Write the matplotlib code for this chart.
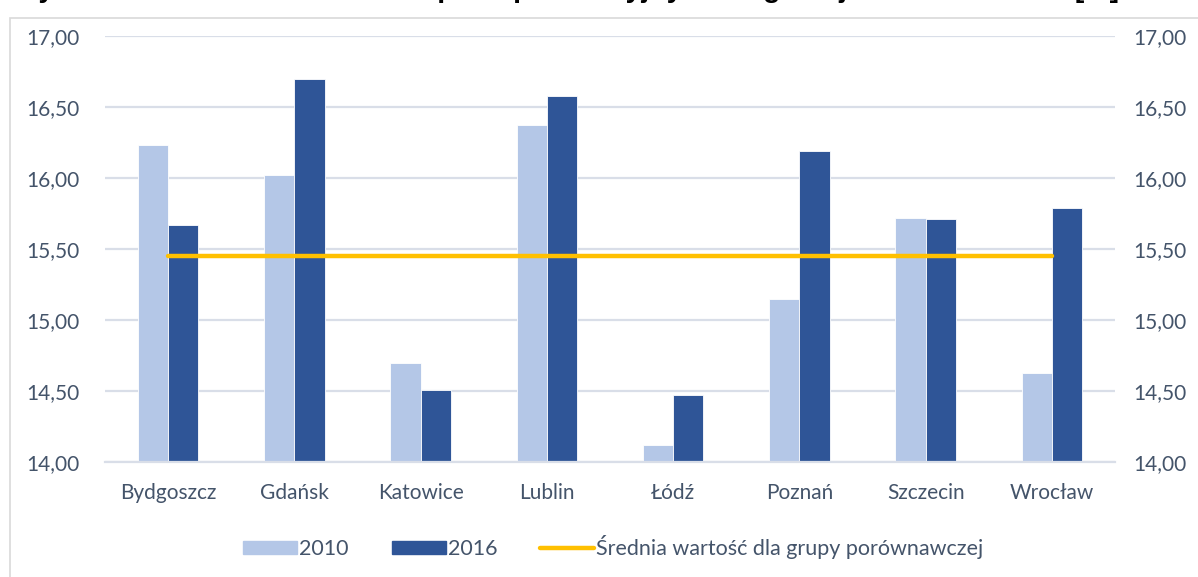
import matplotlib.pyplot as plt
import numpy as np
from matplotlib.patches import Rectangle
from matplotlib.lines import Line2D
from matplotlib.ticker import FuncFormatter

plt.rcParams['font.family'] = ['Lato', 'DejaVu Sans']

cities = ['Bydgoszcz', 'Gdańsk', 'Katowice', 'Lublin', 'Łódź', 'Poznań', 'Szczecin', 'Wrocław']
v2010 = [16.23, 16.02, 14.70, 16.37, 14.12, 15.15, 15.72, 14.63]
v2016 = [15.67, 16.70, 14.51, 16.58, 14.47, 16.19, 15.71, 15.79]
avg_group = 15.45
title = 'Wykres 5. Udział osób w wieku przedprodukcyjnym w ogólnej liczbie ludności [%]'

c2010 = '#B4C7E7'
c2016 = '#2F5597'
cavg = '#FFC000'
txt = '#44546A'
grid = '#D9DEE8'

fig = plt.figure(figsize=(11.98, 5.77), dpi=100)
ax = fig.add_axes([0.0876, 0.1993, 0.8431, 0.7383])

x = np.arange(len(cities))
w = 0.24
ax.bar(x - w/2, v2010, w, bottom=0, color=c2010, edgecolor='white', linewidth=0.6, zorder=2)
ax.bar(x + w/2, v2016, w, bottom=0, color=c2016, edgecolor='white', linewidth=0.6, zorder=2)
ax.plot(x, [avg_group]*len(x), color=cavg, lw=3.2, solid_capstyle='round', zorder=3)

ax.set_xlim(-0.5, len(cities) - 0.5)
ax.set_ylim(14, 17)
ax.set_yticks(np.arange(14, 17.01, 0.5))
fmt = FuncFormatter(lambda v, p: f'{v:.2f}'.replace('.', ','))
ax.yaxis.set_major_formatter(fmt)
ax.yaxis.grid(True, color=grid, lw=1.6, zorder=0)
ax.set_axisbelow(True)
for s in ax.spines.values():
    s.set_visible(False)
ax.spines['bottom'].set_visible(True)
ax.spines['bottom'].set_color(grid)
ax.spines['bottom'].set_linewidth(1.6)

ax.set_xticks(x)
ax.set_xticklabels(cities)
ax.tick_params(axis='both', length=0, colors=txt, labelsize=15)
ax.tick_params(axis='x', pad=15)
ax.tick_params(axis='y', pad=18)

ax2 = ax.twinx()
ax2.set_ylim(ax.get_ylim())
ax2.set_yticks(np.arange(14, 17.01, 0.5))
ax2.yaxis.set_major_formatter(fmt)
for s in ax2.spines.values():
    s.set_visible(False)
ax2.tick_params(axis='y', length=0, colors=txt, labelsize=15, pad=13)

handles = [Rectangle((0, 0), 1, 1, color=c2010),
           Rectangle((0, 0), 1, 1, color=c2016),
           Line2D([0], [0], color=cavg, lw=3.2, solid_capstyle='round')]
fig.legend(handles, ['2010', '2016', 'Średnia wartość dla grupy porównawczej'],
           loc='center', bbox_to_anchor=(0.512, 0.052), ncol=3, frameon=False,
           fontsize=15.5, labelcolor=txt, handlelength=2.5, handleheight=0.55,
           handletextpad=0.1, columnspacing=2.0)

# chart area border
fig.add_artist(Rectangle((10/1198, -0.1), 1.2, 1.1 - 18/577, transform=fig.transFigure,
                         fill=False, edgecolor='#D9D9D9', lw=1.2))

# title, cut off at the top edge as in the source
fig.text(12/1198, 1 + 3/577, title, fontsize=20.5, fontweight='bold', color='black',
         family='Liberation Sans', va='baseline', ha='left')

fig.savefig('out.png', dpi=100)
